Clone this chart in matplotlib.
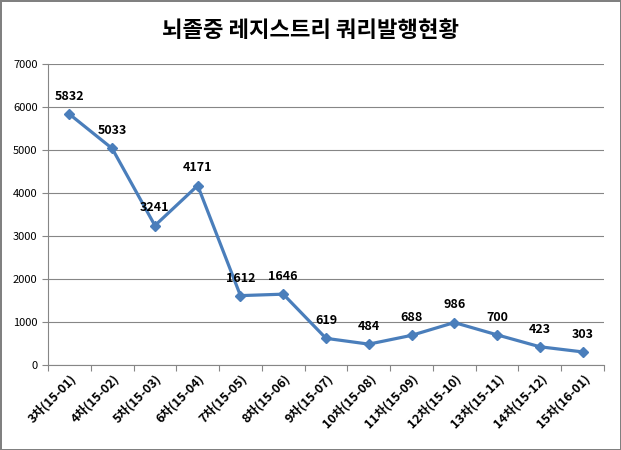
import matplotlib
matplotlib.use("Agg")
import matplotlib.pyplot as plt
import numpy as np

plt.rcParams['font.family'] = ['Noto Sans CJK KR', 'DejaVu Sans']

categories = ['3차(15-01)', '4차(15-02)', '5차(15-03)', '6차(15-04)', '7차(15-05)',
              '8차(15-06)', '9차(15-07)', '10차(15-08)', '11차(15-09)', '12차(15-10)',
              '13차(15-11)', '14차(15-12)', '15차(16-01)']
values = [5832, 5033, 3241, 4171, 1612, 1646, 619, 484, 688, 986, 700, 423, 303]
yticks = [0, 1000, 2000, 3000, 4000, 5000, 6000, 7000]

fig = plt.figure(figsize=(6.21, 4.5), dpi=100)
fig.patch.set_edgecolor('#808080')
fig.patch.set_linewidth(2)
ax = fig.add_axes([0.0773, 0.189, 0.8953, 0.669])

x = np.arange(len(categories))
ax.plot(x, values, color='#4a7ebb', linewidth=2.3, marker='D', markersize=5.5, zorder=3)

for xi, v in zip(x, values):
    ax.annotate(str(v), (xi, v), xytext=(0, 8), textcoords='offset points',
                ha='center', va='bottom', fontsize=9, fontweight='bold', color='#000000')

ax.set_xlim(-0.5, len(categories) - 0.5)
ax.set_ylim(0, 7000)
ax.set_yticks(yticks)
ax.set_yticklabels([str(t) for t in yticks], fontsize=8)
ax.yaxis.grid(True, color='#868686', linewidth=0.8)
ax.set_axisbelow(True)

ax.set_xticks(np.arange(len(categories) + 1) - 0.5)
ax.set_xticklabels([])
ax.set_xticks(x, minor=True)
ax.set_xticklabels(categories, minor=True, rotation=45, ha='right', rotation_mode='anchor',
                   fontsize=9, fontweight='bold')
ax.tick_params(axis='x', which='minor', length=0, pad=5)
ax.tick_params(axis='x', which='major', length=4, color='#868686')
ax.tick_params(axis='y', length=4, color='#868686')

for s in ['top', 'right']:
    ax.spines[s].set_visible(False)
for s in ['left', 'bottom']:
    ax.spines[s].set_color('#868686')

fig.text(0.5, 0.932, '뇌졸중 레지스트리 쿼리발행현황', ha='center', va='center',
         fontsize=16, fontweight='bold')

fig.savefig('out.png', dpi=100)
